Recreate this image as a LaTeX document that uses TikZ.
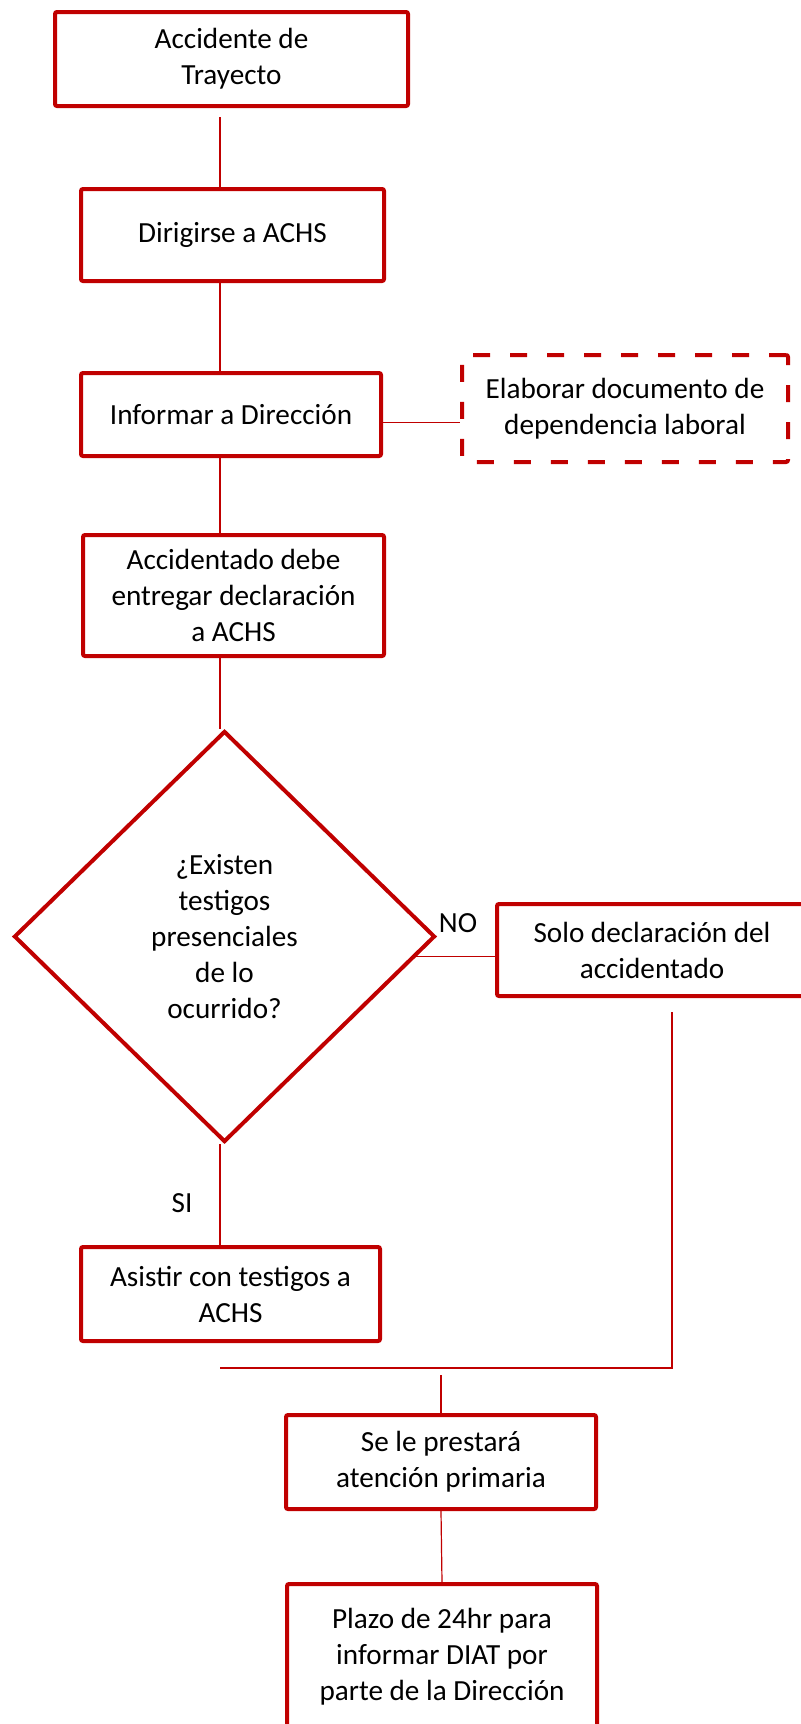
\documentclass[tikz,border=0pt]{standalone}
\usepackage{fontspec}
\setmainfont{Carlito}
\usepackage{xcolor}
\usepackage{tikz}
\usetikzlibrary{shapes.geometric}
\definecolor{achsred}{HTML}{C00000}

\begin{document}
\begin{tikzpicture}[
    x=0.5pt, y=-0.5pt,
    font=\fontsize{14.6}{18}\selectfont,
    box/.style={draw=achsred, line width=2pt, rounded corners=1pt,
      inner sep=0pt, align=center},
    dashbox/.style={box, dash pattern=on 8.5pt off 10pt},
    decision/.style={diamond, draw=achsred, line width=2pt, inner sep=0pt,
      align=center, minimum width=210.5pt, minimum height=205.5pt},
    link/.style={draw=achsred, line width=0.6pt}
  ]
    \useasboundingbox (0,0) rectangle (801,1724);
    \node[box, minimum width=176.5pt, minimum height=47pt] (acc) at (231.5,59) {Accidente de\\Trayecto};
    \node[box, minimum width=151.5pt, minimum height=46pt] (dir) at (232.5,235) {Dirigirse a ACHS};
    \node[box, minimum width=150pt, minimum height=41.5pt] (inf) at (231,414.5) {Informar a Dirección};
    \node[dashbox, minimum width=163pt, minimum height=53.5pt] (doc) at (625,408.5) {Elaborar documento de\\dependencia laboral};
    \node[box, minimum width=150.5pt, minimum height=60.5pt] (decl) at (233.5,595.5) {Accidentado debe\\entregar declaración\\a ACHS};
    \node[decision] (test) at (224.5,936.5) {¿Existen\\testigos\\presenciales\\de lo\\ocurrido?};
    \node[box, minimum width=155pt, minimum height=46pt] (solo) at (652,950) {Solo declaración del\\accidentado};
    \node[box, minimum width=149.5pt, minimum height=47pt] (asis) at (230.5,1294) {Asistir con testigos a\\ACHS};
    \node[box, minimum width=155pt, minimum height=47pt] (prest) at (441,1462) {Se le prestará\\atención primaria};
    \node[box, minimum width=155pt, minimum height=73pt] (plazo) at (442,1657) {Plazo de 24hr para\\informar DIAT por\\parte de la Dirección};
    \node (no) at (458,923) {NO};
    \node (si) at (182,1203) {SI};
    % connectors
    \coordinate (spine) at (220,0);
    \coordinate (rline) at (672,0);
    \coordinate (merge) at (0,1368);
    \draw[link] ([yshift=-4.5pt]acc.south -| spine) -- (dir.north -| spine);
    \draw[link] (dir.south -| spine) -- (inf.north -| spine);
    \draw[link] (inf.south -| spine) -- (decl.north -| spine);
    \draw[link] (decl.south -| spine) -- (test.north -| spine);
    \draw[link] (test.south -| spine) -- (asis.north -| spine);
    \draw[link] ([yshift=-4pt]inf.east) -- ([yshift=-4pt]inf.east -| doc.west);
    \draw[link] (test.-6) -- (test.-6 -| solo.west);
    \draw[link] ([yshift=-7pt]solo.south -| rline) |- (merge -| spine);
    \draw[link] ([yshift=-3.5pt]merge -| prest) -- (prest.north);
    \draw[link] (prest.south) -- (plazo.north);
  \end{tikzpicture}
\end{document}
